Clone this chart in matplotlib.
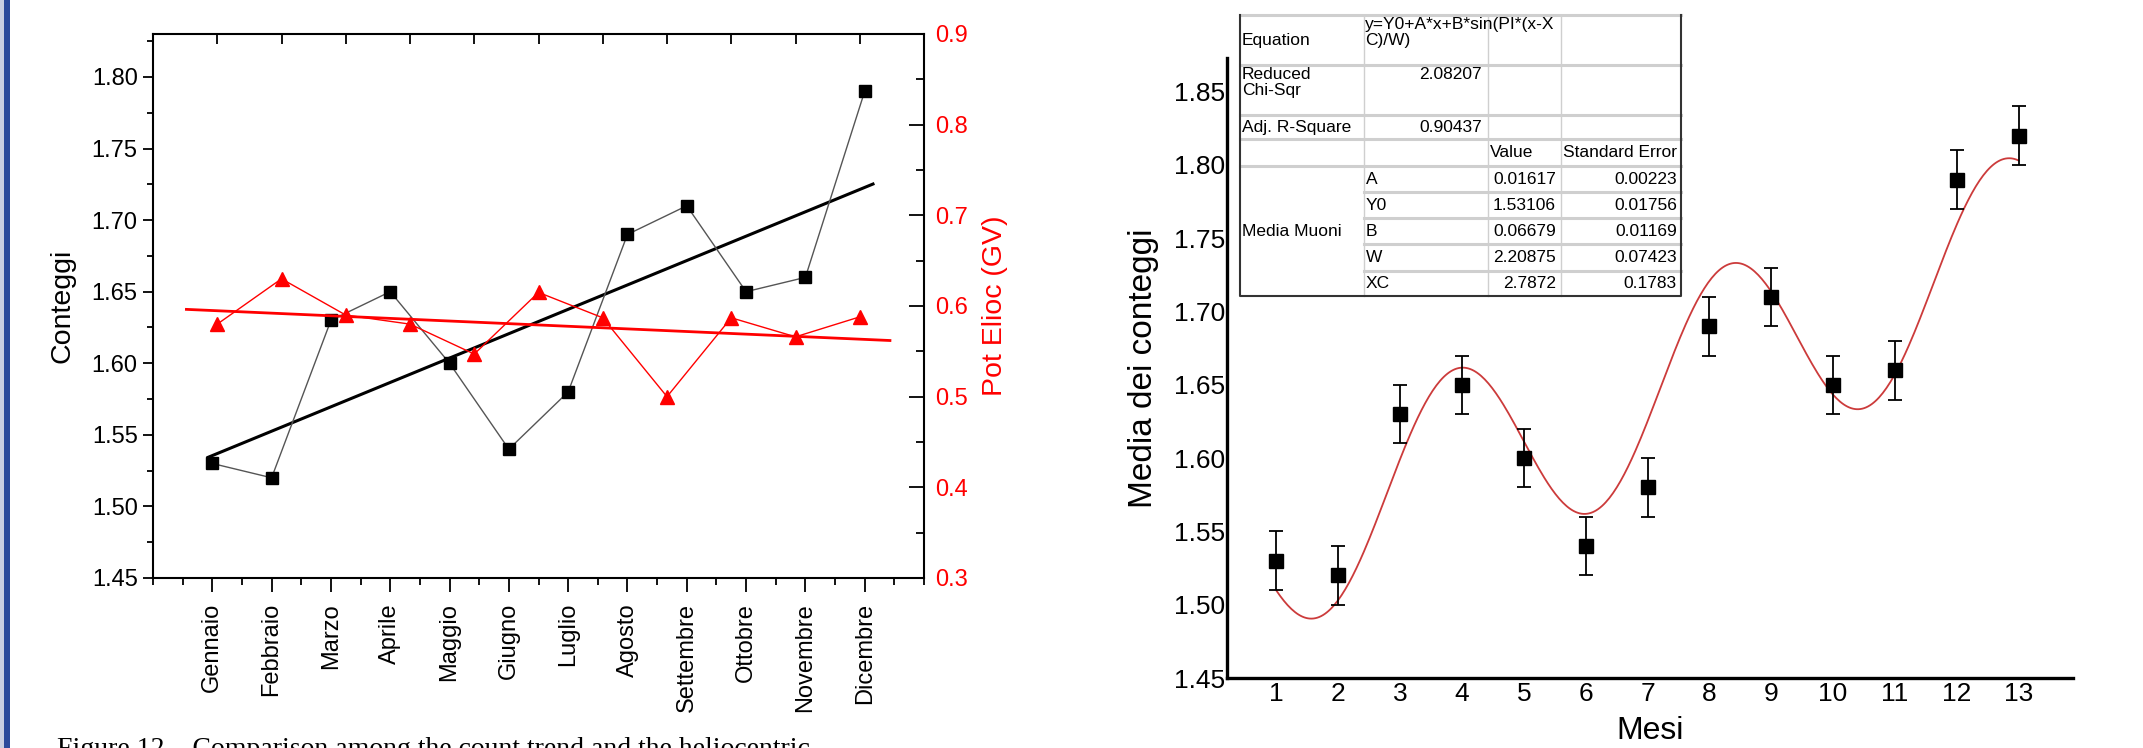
import numpy as np
import matplotlib
matplotlib.use("Agg")
import matplotlib.pyplot as plt
from matplotlib.ticker import MultipleLocator
from matplotlib.patches import Rectangle

plt.rcParams["font.family"] = ["Liberation Sans", "DejaVu Sans"]

# left panel: monthly counts and heliocentric potential
mesi = ["Gennaio", "Febbraio", "Marzo", "Aprile", "Maggio", "Giugno", "Luglio",
        "Agosto", "Settembre", "Ottobre", "Novembre", "Dicembre"]
conteggi = [1.53, 1.52, 1.63, 1.65, 1.60, 1.54, 1.58, 1.69, 1.71, 1.65, 1.66, 1.79]
pot_elioc = [0.58, 0.63, 0.59, 0.58, 0.547, 0.615, 0.587, 0.50, 0.587, 0.566, 0.588]

# right panel: monthly means with error bars and sinusoidal fit
mesi_num = list(range(1, 14))
media = [1.53, 1.52, 1.63, 1.65, 1.60, 1.54, 1.58, 1.69, 1.71, 1.65, 1.66, 1.79, 1.82]
errori = [0.02] * 13

# fit table
par_names = ["A", "Y0", "B", "W", "XC"]
par_values = ["0.01617", "1.53106", "0.06679", "2.20875", "2.7872"]
par_errors = ["0.00223", "0.01756", "0.01169", "0.07423", "0.1783"]
chi_sqr = "2.08207"
adj_r2 = "0.90437"

W, H = 2143, 748
fig = plt.figure(figsize=(W / 100, H / 100), dpi=100)


def px_axes(x0, y0, x1, y1):
    return fig.add_axes([x0 / W, 1 - y1 / H, (x1 - x0) / W, (y1 - y0) / H])


# ---------------- left panel ----------------
ax = px_axes(153, 34, 924, 578)
x = np.arange(1, len(conteggi) + 1)
ax.plot(x, conteggi, color="#555555", lw=1.0, marker="s", ms=8,
        mfc="black", mec="black", zorder=3)
k, q = np.polyfit(x, conteggi, 1)
xf = np.array([0.93, 12.14])
ax.plot(xf, q + k * xf, color="black", lw=2.2, zorder=2)
ax.set_xlim(0, 13)
ax.set_ylim(1.45, 1.83)
ax.set_xticks(x)
ax.set_xticklabels(mesi, rotation=90, fontsize=17)
ax.xaxis.set_minor_locator(MultipleLocator(0.5))
ax.set_yticks(np.arange(1.45, 1.801, 0.05))
ax.set_yticklabels([f"{v:.2f}" for v in np.arange(1.45, 1.801, 0.05)], fontsize=17)
ax.yaxis.set_minor_locator(MultipleLocator(0.025))
ax.tick_params(axis="x", which="major", direction="out", length=10, width=1.3, pad=8)
ax.tick_params(axis="x", which="minor", direction="out", length=5, width=1.3)
ax.tick_params(axis="y", which="major", direction="out", length=7, width=1.3, pad=4)
ax.tick_params(axis="y", which="minor", direction="out", length=4, width=1.3)
ax.tick_params(top=False, right=False, which="both")
for s in ax.spines.values():
    s.set_linewidth(1.5)
ax.set_ylabel("Conteggi", fontsize=20.5, labelpad=12)

axr = px_axes(153, 34, 924, 578)
axr.set_frame_on(False)
axr.patch.set_visible(False)
xr = np.arange(1, len(pot_elioc) + 1)
axr.plot(xr, pot_elioc, color="red", lw=1.0, marker="^", ms=10,
         mfc="red", mec="red", zorder=3)
k2, q2 = np.polyfit(xr, pot_elioc, 1)
xf2 = np.array([0.52, 11.47])
axr.plot(xf2, q2 + k2 * xf2, color="red", lw=2.0, zorder=2)
axr.set_xlim(0, 12)
axr.set_ylim(0.3, 0.9)
axr.xaxis.tick_top()
axr.yaxis.tick_right()
axr.yaxis.set_label_position("right")
axr.set_xticks(xr)
axr.tick_params(axis="x", which="major", direction="in", length=7, width=1.3,
                labeltop=False)
axr.set_yticks(np.arange(0.3, 0.91, 0.1))
axr.set_yticklabels([f"{v:.1f}" for v in np.arange(0.3, 0.91, 0.1)], fontsize=17)
axr.yaxis.set_minor_locator(MultipleLocator(0.05))
axr.tick_params(axis="y", which="major", direction="in", length=11, width=1.3,
                pad=8, labelcolor="red")
axr.tick_params(axis="y", which="minor", direction="in", length=6, width=1.3)
axr.set_ylabel("Pot Elioc (GV)", fontsize=20.5, color="red", labelpad=10)

# ---------------- right panel ----------------
ax2 = px_axes(1227, 58, 2073, 678)
ax2.errorbar(mesi_num, media, yerr=errori, fmt="s", color="black", ms=10.5,
             ecolor="black", elinewidth=1.3, capsize=5, capthick=1.3, zorder=3)
pv = dict(zip(par_names, [float(v) for v in par_values]))
xc = np.linspace(mesi_num[0], mesi_num[-1], 400)
yc = pv["Y0"] + pv["A"] * xc + pv["B"] * np.sin(np.pi * (xc - pv["XC"]) / pv["W"])
ax2.plot(xc, yc, color="#cc3b3b", lw=1.3, zorder=2)
ax2.set_xlim(0.2, 13.88)
ax2.set_ylim(1.45, 1.873)
ax2.set_xticks(mesi_num)
ax2.set_xticklabels([str(m) for m in mesi_num], fontsize=19)
ax2.set_yticks(np.arange(1.45, 1.851, 0.05))
ax2.set_yticklabels([f"{v:.2f}" for v in np.arange(1.45, 1.851, 0.05)], fontsize=19)
ax2.tick_params(length=0, pad=3)
ax2.tick_params(axis="y", pad=1)
ax2.spines["top"].set_visible(False)
ax2.spines["right"].set_visible(False)
ax2.spines["left"].set_linewidth(2.4)
ax2.spines["bottom"].set_linewidth(2.4)
ax2.set_xlabel("Mesi", fontsize=23, labelpad=7)
ax2.set_ylabel("Media dei conteggi", fontsize=24, labelpad=11)

# ---------------- fit table and page decorations ----------------
ov = fig.add_axes([0, 0, 1, 1])
ov.set_xlim(0, W)
ov.set_ylim(H, 0)
ov.axis("off")

cols = [1240, 1364, 1488, 1561, 1681]
rows = [15, 65, 115, 139, 166, 192, 218, 244, 271, 296]
ov.add_patch(Rectangle((cols[0], rows[0]), cols[-1] - cols[0], rows[-1] - rows[0],
                       facecolor="white", edgecolor="none", zorder=1))
light = "#cfcfcf"
for i, r in enumerate(rows[:-1]):
    x0 = cols[1] if 5 <= i <= 8 else cols[0]
    ov.plot([x0, cols[-1]], [r, r], color=light, lw=2.2, zorder=2)
for c in cols[1:-1]:
    ov.plot([c, c], [rows[0], rows[-1]], color=light, lw=1.0, zorder=2)
ov.plot([cols[0], cols[0], cols[-1], cols[-1]], [rows[0], rows[-1], rows[-1], rows[0]],
        color="#333333", lw=1.5, zorder=3)

fs = 12.5
ov.text(1242, 40, "Equation", fontsize=fs, va="center", ha="left")
ov.text(1365, 17, "y=Y0+A*x+B*sin(PI*(x-X\nC)/W)", fontsize=fs, va="top",
        ha="left", linespacing=1.05)
ov.text(1242, 67, "Reduced\nChi-Sqr", fontsize=fs, va="top", ha="left",
        linespacing=1.1)
ov.text(1482, 67, chi_sqr, fontsize=fs, va="top", ha="right")
ov.text(1242, 127, "Adj. R-Square", fontsize=fs, va="center", ha="left")
ov.text(1482, 127, adj_r2, fontsize=fs, va="center", ha="right")
ov.text(1490, 152, "Value", fontsize=fs, va="center", ha="left")
ov.text(1563, 152, "Standard Error", fontsize=fs, va="center", ha="left")
ov.text(1242, 231, "Media Muoni", fontsize=fs, va="center", ha="left")
for i, (n, v, e) in enumerate(zip(par_names, par_values, par_errors)):
    yc_row = (rows[4 + i] + rows[5 + i]) / 2
    ov.text(1366, yc_row, n, fontsize=fs, va="center", ha="left")
    ov.text(1556, yc_row, v, fontsize=fs, va="center", ha="right")
    ov.text(1677, yc_row, e, fontsize=fs, va="center", ha="right")

ov.add_patch(Rectangle((0, 0), 3.5, H, facecolor="#c9cfe2", edgecolor="none"))
ov.add_patch(Rectangle((3.5, 0), 6, H, facecolor="#2b4a9b", edgecolor="none"))
ov.text(57, 756, "Figure 12 \u2013 Comparison among the count trend and the heliocentric",
        fontsize=20, family=["Liberation Serif", "DejaVu Serif"], va="baseline",
        ha="left", clip_on=False)

fig.savefig("out.png", dpi=100)
